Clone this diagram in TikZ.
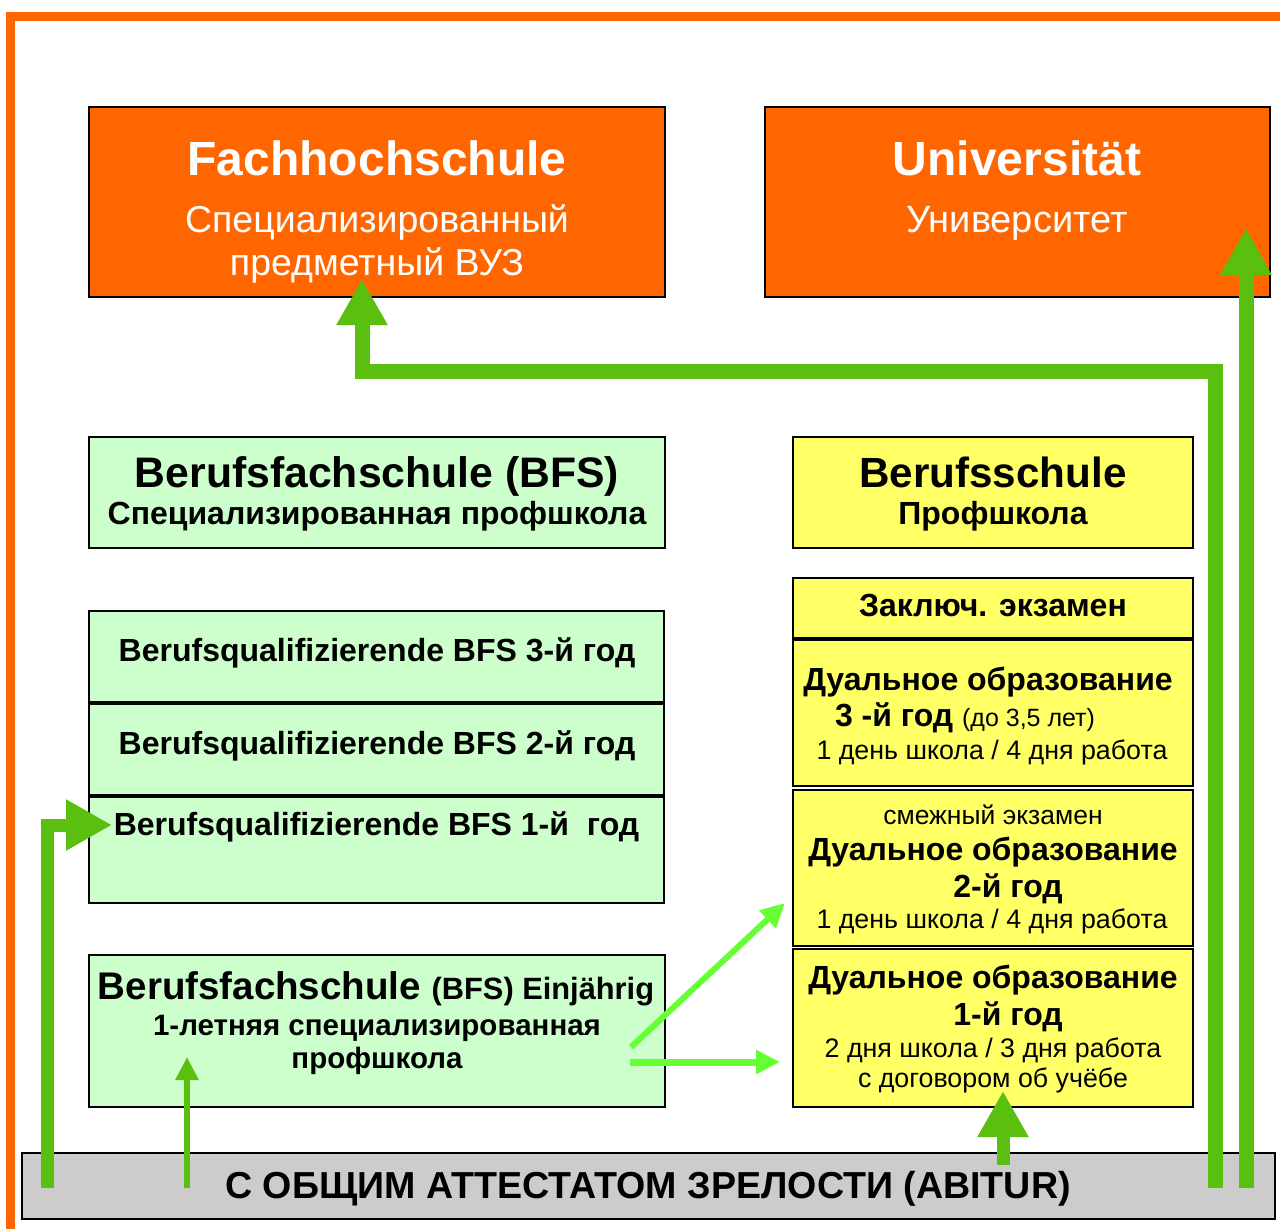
\documentclass[tikz,border=0pt]{standalone}
\usepackage{fontspec}
\setmainfont{Liberation Sans}
\usetikzlibrary{arrows.meta}
\definecolor{orng}{HTML}{FF6600}
\definecolor{dgreen}{HTML}{5ABF0E}
\definecolor{lgreen}{HTML}{66FF33}
\definecolor{mint}{HTML}{CCFFCC}
\definecolor{yel}{HTML}{FFFF66}
\definecolor{gry}{HTML}{CCCCCC}
\newcommand{\fsz}[1]{\fontsize{#1}{#1}\selectfont}
\begin{document}
\begin{tikzpicture}[x=1pt,y=-1pt,
  panel/.style={draw=black,line width=2pt,inner sep=0pt,outer sep=0pt},
  txt/.style={anchor=base,inner sep=0pt,outer sep=0pt},
  wtxt/.style={txt,text=white},
  bigarrow/.style={draw=dgreen,line width=14pt,line join=miter,-{Triangle[length=46pt,width=48pt]}},
  thinarrow/.style={draw=dgreen,line width=6pt,-{Triangle[length=23pt,width=22pt]}},
  larrow/.style={draw=lgreen,line width=7pt,-{Triangle[length=24pt,width=23pt]}}]
\useasboundingbox (0,0) rectangle (1280,1229);
% frame
\draw[orng,line width=8.5pt] (10.5,1240) -- (10.5,16.5) -- (1290,16.5);
% boxes
\node[panel,fill=orng,minimum width=576pt,minimum height=190pt] (fh) at (377,202) {};
\node[panel,fill=orng,minimum width=505pt,minimum height=190pt] (uni) at (1017.5,202) {};
\node[panel,fill=mint,minimum width=576pt,minimum height=111pt] (bfs) at (377,492.5) {};
\node[panel,fill=yel,minimum width=400pt,minimum height=111pt] (bs) at (993,492.5) {};
\node[panel,fill=mint,minimum width=575pt,minimum height=91pt] (q3) at (376.5,656.5) {};
\node[panel,fill=mint,minimum width=575pt,minimum height=91pt] (q2) at (376.5,749.5) {};
\node[panel,fill=mint,minimum width=575pt,minimum height=106pt] (q1) at (376.5,850) {};
\node[panel,fill=mint,minimum width=576pt,minimum height=152pt] (ein) at (377,1031) {};
\node[panel,fill=yel,minimum width=400pt,minimum height=60pt] (ex) at (993,608) {};
\node[panel,fill=yel,minimum width=400pt,minimum height=146pt] (d3) at (993,713) {};
\node[panel,fill=yel,minimum width=400pt,minimum height=156pt] (d2) at (993,868) {};
\node[panel,fill=yel,minimum width=400pt,minimum height=158pt] (d1) at (993,1028) {};
\node[panel,fill=gry,minimum width=1253pt,minimum height=66pt] (abi) at (648.5,1186) {};
% texts
\node[wtxt,font=\fsz{48}\bfseries] (tfh1) at (377,175) {Fachhochschule};
\node[wtxt,font=\fsz{37.5}] (tfh2) at (377,232) {Специализированный};
\node[wtxt,font=\fsz{37.5}] (tfh3) at (377,275) {предметный ВУЗ};
\node[wtxt,font=\fsz{48}\bfseries] (tun1) at (1017,175) {Universität};
\node[wtxt,font=\fsz{38}] (tun2) at (1017,232) {Университет};
\node[txt,font=\fsz{42.7}\bfseries] (tbfs1) at (377,487) {Berufsfachschule (BFS)};
\node[txt,font=\fsz{32}\bfseries] (tbfs2) at (377,524) {Специализированная профшкола};
\node[txt,font=\fsz{42.2}\bfseries] (tbs1) at (993,487) {Berufsschule};
\node[txt,font=\fsz{32}\bfseries] (tbs2) at (993,524) {Профшкола};
\node[txt,font=\fsz{32}\bfseries] (tq3) at (377,661) {Berufsqualifizierende BFS 3-й год};
\node[txt,font=\fsz{32}\bfseries] (tq2) at (377,754) {Berufsqualifizierende BFS 2-й год};
\node[txt,font=\fsz{32}\bfseries] (tq1) at (376.5,835) {Berufsqualifizierende BFS 1-й\ \ год};
\node[txt,font=\bfseries] (tein1) at (376,999) {\fsz{38.5}Berufsfachschule \fsz{30.8}(BFS) Einjährig};
\node[txt,font=\fsz{29.5}\bfseries] (tein2) at (377,1035) {1-летняя специализированная};
\node[txt,font=\fsz{29.5}\bfseries] (tein3) at (377,1068) {профшкола};
\node[txt,font=\fsz{32}\bfseries] (tex) at (993,616) {Заключ. экзамен};
\node[txt,font=\fsz{32}\bfseries] (td31) at (988,690) {Дуальное образование};
\node[txt,anchor=base west] (td32) at (835,726) {\fsz{32}\bfseries 3 -й год \fsz{25}\mdseries(до 3,5 лет)};
\node[txt,font=\fsz{26.8}] (td33) at (992,759) {1 день школа / 4 дня работа};
\node[txt,font=\fsz{26.5}] (td21) at (993,824) {смежный экзамен};
\node[txt,font=\fsz{32}\bfseries] (td22) at (993,860) {Дуальное образование};
\node[txt,font=\fsz{32}\bfseries] (td23) at (1008,897) {2-й год};
\node[txt,font=\fsz{26.8}] (td24) at (992,928) {1 день школа / 4 дня работа};
\node[txt,font=\fsz{32}\bfseries] (td11) at (993,988) {Дуальное образование};
\node[txt,font=\fsz{32}\bfseries] (td12) at (1008,1025) {1-й год};
\node[txt,font=\fsz{26.8}] (td13) at (993,1057) {2 дня школа / 3 дня работа};
\node[txt,font=\fsz{26.8}] (td14) at (993,1087) {с договором об учёбе};
\node[txt,font=\fsz{37.6}\bfseries] (tabi) at (648,1198) {С ОБЩИМ АТТЕСТАТОМ ЗРЕЛОСТИ (ABITUR)};
% connector end points
\coordinate (a1s) at (47,1188);
\coordinate (a1e) at (112,825);
\coordinate (a2s) at (187,1188);
\coordinate (a2e) at (187,1057);
\coordinate (a3s) at (1215,1188);
\coordinate (a3e) at (362,279);
\coordinate (a4s) at (1246,1188);
\coordinate (a4e) at (1246,228);
\coordinate (a5s) at (1003,1165);
\coordinate (a5e) at (1003,1091);
\coordinate (a6s) at (631,1047);
\coordinate (a6e) at (785,903);
\coordinate (a7s) at (630,1062);
\coordinate (a7e) at (780,1062);
% arrows
\draw[bigarrow,line width=13pt] (a1s) |- (a1e);
\draw[thinarrow] (a2s) -- (a2e);
\draw[bigarrow,line width=15pt] (a3s) -- (1215,371) -| (a3e);
\draw[bigarrow,line width=15pt,-{Triangle[length=47pt,width=48pt]}] (a4s) -- (a4e);
\draw[bigarrow,line width=13pt] (a5s) -- (a5e);
\draw[larrow,line width=6pt] (a6s) -- (a6e);
\draw[larrow] (a7s) -- (a7e);
\end{tikzpicture}
\end{document}
